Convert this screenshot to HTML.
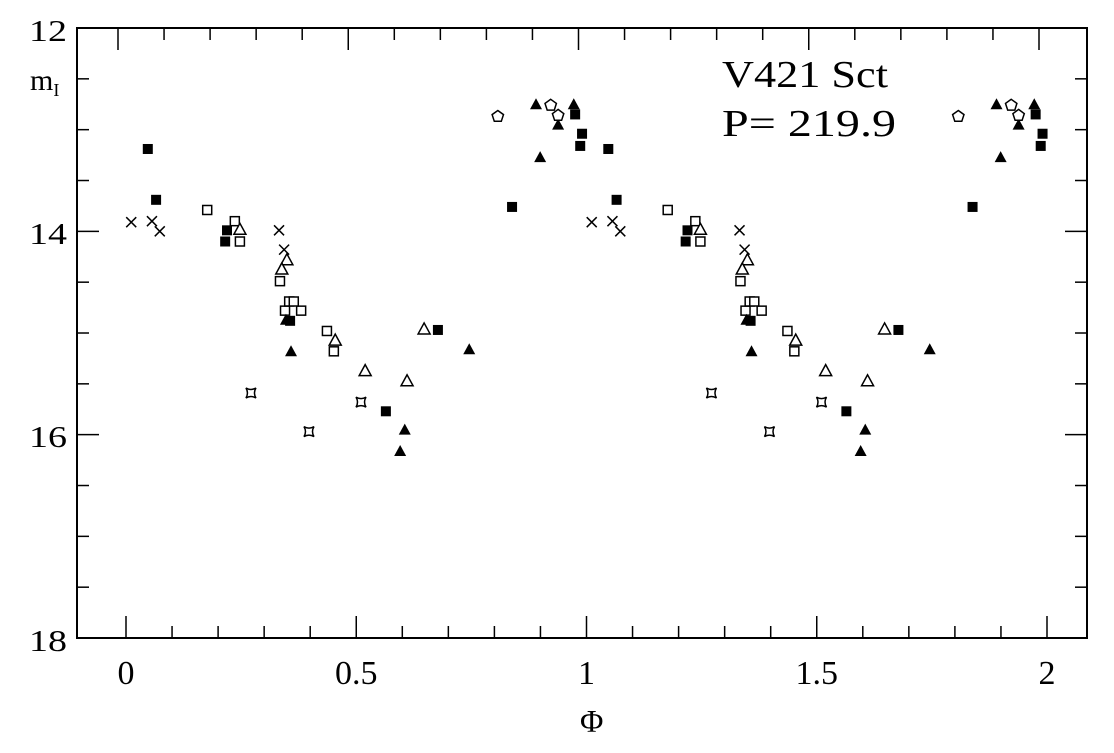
<!DOCTYPE html>
<html><head><meta charset="utf-8"><style>
body{margin:0;background:#fff;}
svg text{font-family:"Liberation Serif","DejaVu Serif",serif;fill:#000;}
</style></head><body>
<svg width="1114" height="748" viewBox="0 0 1114 748">
<rect x="0" y="0" width="1114" height="748" fill="#fff"/>
<rect x="77" y="28" width="1010" height="610" fill="none" stroke="#000" stroke-width="2"/>
<g id="ticks"></g>
<g id="labels">
<text x="29" y="41" font-size="31" textLength="38" lengthAdjust="spacingAndGlyphs">12</text>
<text x="29" y="244" font-size="31" textLength="38" lengthAdjust="spacingAndGlyphs">14</text>
<text x="29" y="447" font-size="31" textLength="38" lengthAdjust="spacingAndGlyphs">16</text>
<text x="29" y="651" font-size="31" textLength="38" lengthAdjust="spacingAndGlyphs">18</text>
<text x="30" y="90" font-size="30">m<tspan font-size="18" dy="6">I</tspan></text>
<text x="580" y="732" font-size="32">Φ</text>
<text x="722" y="87" font-size="38" textLength="166" lengthAdjust="spacingAndGlyphs">V421 Sct</text>
<text x="722" y="136" font-size="38" textLength="174" lengthAdjust="spacingAndGlyphs">P= 219.9</text>
</g>
<g id="marks"></g>
</svg>
<script>
const xTickLabels = ["0","0.5","1","1.5","2"];
const xTickValues = [0,0.5,1,1.5,2];
const crossPhase = [0.007,0.052,0.069,0.328,0.339];
const crossMag = [13.91,13.90,14.00,13.99,14.18];
const fsqPhase = [0.043,0.061,0.215,0.211,0.352,0.673,0.560,0.834,0.971,0.986,0.982];
const fsqMag = [13.19,13.69,13.99,14.10,14.88,14.97,15.77,13.76,12.85,13.04,13.16];
const ftriPhase = [0.886,0.895,0.934,0.968,0.343,0.354,0.741,0.601,0.591];
const ftriMag = [12.75,13.27,12.95,12.75,14.87,15.18,15.16,15.95,16.16];
const otriPhase = [0.243,0.345,0.334,0.450,0.515,0.606,0.643];
const otriMag = [13.98,14.28,14.37,15.07,15.37,15.47,14.96];
const osqPhase = [0.172,0.232,0.243,0.330,0.341,0.376,0.350,0.360,0.432,0.447];
const osqMag = [13.79,13.90,14.10,14.49,14.78,14.78,14.69,14.69,14.98,15.18];
const starPhase = [0.267,0.506,0.393];
const starMag = [15.59,15.68,15.97];
const pentPhase = [0.803,0.918,0.934];
const pentMag = [12.87,12.76,12.86];

const NS="http://www.w3.org/2000/svg";
function X(p){return 128+460.5*p;}
function Y(m){return 28+(m-12)*101.67;}
function mk(tag,attrs,parent){const e=document.createElementNS(NS,tag);for(const k in attrs)e.setAttribute(k,attrs[k]);parent.appendChild(e);return e;}
const ticks=document.getElementById('ticks');
for(let i=0;i<=20;i++){
  const p=i/10, x=X(p)-2, L=(i%5===0)?22:12;
  let t=mk('line',{x1:x,y1:638,x2:x,y2:638-L,stroke:'#000','stroke-width':1.5},ticks);
  
  
  t=mk('line',{x1:x-8,y1:28,x2:x-8,y2:28+L,stroke:'#000','stroke-width':1.5},ticks);
  
  
}
for(let i=0;i<=12;i++){
  const m=12+i*0.5, y=Y(m), L=(i%4===0)?22:12;
  let t=mk('line',{x1:77,y1:y,x2:77+L,y2:y,stroke:'#000','stroke-width':1.5},ticks);
  
  
  t=mk('line',{x1:1087,y1:y,x2:1087-L,y2:y,stroke:'#000','stroke-width':1.5},ticks);
  
  
}
const lab=document.getElementById('labels');
xTickValues.forEach((v,i)=>{
  const t=mk('text',{x:X(v)-2,y:684,'font-size':34,'text-anchor':'middle'},lab);
  t.textContent=xTickLabels[i];
  
  
});
const marks=document.getElementById('marks');
function draw(phases,mags,type){
  phases.forEach((p,i)=>{
    for(const off of [0,1]){
      const cx=X(p+off), cy=Y(mags[i]); let e;
      if(type==='cross'){
        e=mk('path',{d:`M${cx-5},${cy-5}L${cx+5},${cy+5}M${cx-5},${cy+5}L${cx+5},${cy-5}`,stroke:'#000','stroke-width':1.5,fill:'none'},marks);
      }else if(type==='fsq'){
        e=mk('rect',{x:cx-5,y:cy-5,width:10,height:10,fill:'#000'},marks);
      }else if(type==='osq'){
        e=mk('rect',{x:cx-4.5,y:cy-4.5,width:9,height:9,fill:'#fff',stroke:'#000','stroke-width':1.5},marks);
      }else if(type==='ftri'){
        e=mk('polygon',{points:`${cx},${cy-6} ${cx-6},${cy+5} ${cx+6},${cy+5}`,fill:'#000'},marks);
      }else if(type==='otri'){
        e=mk('polygon',{points:`${cx},${cy-6} ${cx-6},${cy+5} ${cx+6},${cy+5}`,fill:'#fff',stroke:'#000','stroke-width':1.5},marks);
      }else if(type==='star'){
        e=mk('path',{d:`M${cx-5},${cy-5}Q${cx},${cy-2} ${cx+5},${cy-5}Q${cx+2},${cy} ${cx+5},${cy+5}Q${cx},${cy+2} ${cx-5},${cy+5}Q${cx-2},${cy} ${cx-5},${cy-5}Z`,fill:'none',stroke:'#000','stroke-width':1.5},marks);
      }else{
        let pts=[];for(let k=0;k<5;k++){const a=-Math.PI/2+k*2*Math.PI/5;pts.push((cx+6*Math.cos(a)).toFixed(1)+','+(cy+6*Math.sin(a)).toFixed(1));}
        e=mk('polygon',{points:pts.join(' '),fill:'#fff',stroke:'#000','stroke-width':1.5},marks);
      }
      
      
    }
  });
}
draw(crossPhase,crossMag,'cross');
draw(osqPhase,osqMag,'osq');
draw(otriPhase,otriMag,'otri');
draw(fsqPhase,fsqMag,'fsq');
draw(ftriPhase,ftriMag,'ftri');
draw(starPhase,starMag,'star');
draw(pentPhase,pentMag,'pent');
</script>
</body></html>
